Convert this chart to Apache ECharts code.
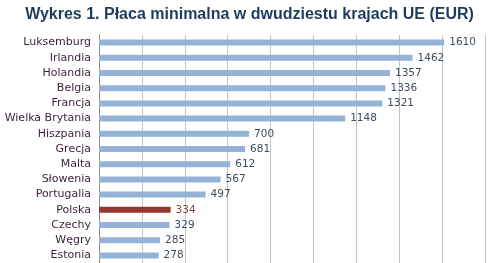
<!DOCTYPE html>
<html>
<head>
<meta charset="utf-8">
<script src="https://cdn.jsdelivr.net/npm/echarts@6/dist/echarts.min.js"></script>
<style>
  html, body { margin: 0; padding: 0; background: #fff; }
  #chart { width: 499px; height: 263px; }
</style>
</head>
<body>
<div id="chart"></div>
<script>
const countries = ['Luksemburg', 'Irlandia', 'Holandia', 'Belgia', 'Francja', 'Wielka Brytania',
  'Hiszpania', 'Grecja', 'Malta', 'Słowenia', 'Portugalia', 'Polska', 'Czechy', 'Węgry', 'Estonia'];
const wages = [1610, 1462, 1357, 1336, 1321, 1148, 700, 681, 612, 567, 497, 334, 329, 285, 278];
const highlight = 'Polska';

const chart = echarts.init(document.getElementById('chart'));

chart.setOption({
  animation: false,
  title: {
    text: 'Wykres 1. Płaca minimalna w dwudziestu krajach UE (EUR)',
    left: 'center',
    top: 2,
    textStyle: {
      fontFamily: 'Liberation Sans',
      fontWeight: 'bold',
      fontSize: 16,
      color: '#1f3b5c'
    }
  },
  grid: { left: 99, right: 14, top: 35, bottom: -1 },
  xAxis: {
    type: 'value',
    min: 0,
    max: 1800,
    interval: 200,
    axisLabel: { show: false },
    axisLine: { show: false },
    axisTick: { show: false },
    splitLine: { lineStyle: { color: '#c4c4c4', width: 1 } }
  },
  yAxis: {
    type: 'category',
    data: countries,
    inverse: true,
    axisLine: { lineStyle: { color: '#8c8c8c' } },
    axisTick: { length: 4, lineStyle: { color: '#8c8c8c' } },
    axisLabel: {
      margin: 8,
      fontFamily: 'DejaVu Sans',
      fontSize: 11,
      color: '#3a1f3c'
    }
  },
  series: [{
    type: 'bar',
    barWidth: 6,
    data: wages.map((v, i) => countries[i] === highlight
      ? { value: v, itemStyle: { color: '#953735' }, label: { color: '#8a4636' } }
      : v),
    itemStyle: { color: '#95b3d7' },
    label: {
      show: true,
      position: 'right',
      distance: 5,
      fontFamily: 'DejaVu Sans',
      fontSize: 10.5,
      color: '#3d4d60'
    }
  }]
});
</script>
</body>
</html>
